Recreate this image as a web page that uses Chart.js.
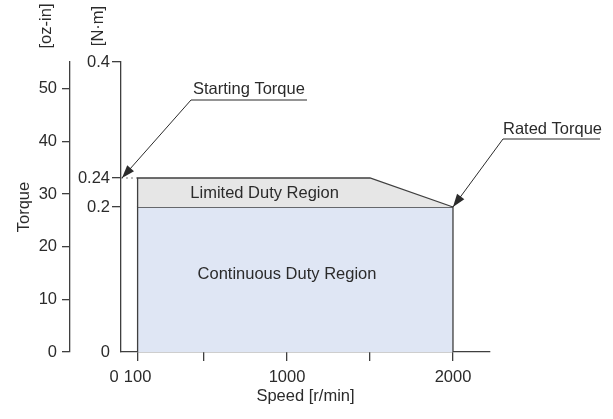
<!DOCTYPE html>
<html>
<head>
<meta charset="utf-8">
<script src="https://cdn.jsdelivr.net/npm/chart.js@4/dist/chart.umd.min.js"></script>
<style>
html,body{margin:0;padding:0;background:#fff;}
#wrap{width:613px;height:419px;}
</style>
</head>
<body>
<div id="wrap"><canvas id="c" width="613" height="419"></canvas></div>
<script>
// ---- data ----
const speedTicks = [0, 100, 500, 1000, 1500, 2000];
const speedTickLabels = ['0   ', '100', '', '1000', '', '2000'];
const torqueNmTicks = [0, 0.2, 0.24, 0.4];
const torqueNmTickLabels = ['0', '0.2', '0.24', '0.4'];
const torqueOzTicks = [0, 10, 20, 30, 40, 50];
const speedRange = [0, 2223];
const torqueNmRange = [0, 0.4];
const torqueOzRange = [0, 55.1];

const continuousSpeed = [100, 100, 2000, 2000];
const continuousTorque = [0, 0.2, 0.2, 0];
const limitedSpeed = [100, 100, 1500, 2000];
const limitedTorque = [0.2, 0.24, 0.24, 0.2];
const startingSpeed = [0, 100];
const startingTorque = [0.24, 0.24];

const regionLabels = ['Limited Duty Region', 'Continuous Duty Region'];
const regionLabelSpeed = [865, 1000];
const regionLabelTorque = [0.218, 0.107];

const calloutLabels = ['Starting Torque', 'Rated Torque'];
const calloutSpeed = [0, 2000];
const calloutTorque = [0.24, 0.2];

// ---- styles ----
const INK = '#2b2b2b';
const LINE = '#3f3f3f';
const BLUE = '#dfe6f4';
const GREY = '#e6e6e6';
const NONE = 'rgba(0,0,0,0)';

// pick the condensed face if installed, else regular with equivalent width
const probe = document.createElement('canvas').getContext('2d');
probe.font = '20px "Liberation Sans Narrow", monospace';
const wNarrow = probe.measureText('Starting Torque').width;
probe.font = '20px monospace';
const wMono = probe.measureText('Starting Torque').width;
const hasNarrow = Math.abs(wNarrow - wMono) > 0.5;
const FONT = hasNarrow ? '"Liberation Sans Narrow", "Liberation Sans", Arial, sans-serif'
                       : '"Liberation Sans", Arial, sans-serif';
const FS = hasNarrow ? 20 : 16.5;

Chart.defaults.font.family = FONT;
Chart.defaults.font.size = FS;
Chart.defaults.color = INK;

const zip = (xs, ys) => xs.map((x, i) => ({x: x, y: ys[i]}));

// callout geometry (pixel offsets from the pointed-to data point)
const calloutGeom = [
  {tipDx: 1, tipDy: 0, elbowDx: 69, elbowDy: -78, lineLen: 116, textDx: 2, textDy: -6},
  {tipDx: 0, tipDy: 0, elbowDx: 50, elbowDy: -68, lineLen: 97, textDx: 0, textDy: -5}
];

function arrowHead(ctx, x0, y0, x1, y1, len, half) {
  const a = Math.atan2(y1 - y0, x1 - x0);
  ctx.beginPath();
  ctx.moveTo(x1, y1);
  ctx.lineTo(x1 - len * Math.cos(a) + half * Math.sin(a), y1 - len * Math.sin(a) - half * Math.cos(a));
  ctx.lineTo(x1 - len * Math.cos(a) - half * Math.sin(a), y1 - len * Math.sin(a) + half * Math.cos(a));
  ctx.closePath();
  ctx.fill();
}

const annotate = {
  id: 'annotate',
  afterDraw(chart) {
    const ctx = chart.ctx;
    const xs = chart.scales.x, ns = chart.scales.nm, os = chart.scales.oz;
    ctx.save();
    ctx.fillStyle = INK;
    ctx.strokeStyle = INK;
    ctx.font = FS + 'px ' + FONT;
    ctx.textAlign = 'center';
    ctx.textBaseline = 'middle';
    regionLabels.forEach((t, i) => {
      ctx.fillText(t, xs.getPixelForValue(regionLabelSpeed[i]), ns.getPixelForValue(regionLabelTorque[i]));
    });
    ctx.lineWidth = 1;
    ctx.textAlign = 'left';
    ctx.textBaseline = 'alphabetic';
    calloutLabels.forEach((t, i) => {
      const g = calloutGeom[i];
      const tx = xs.getPixelForValue(calloutSpeed[i]) + g.tipDx;
      const ty = ns.getPixelForValue(calloutTorque[i]) + g.tipDy;
      const ex = tx + g.elbowDx, ey = ty + g.elbowDy;
      ctx.beginPath();
      ctx.moveTo(ex + g.lineLen, ey);
      ctx.lineTo(ex, ey);
      ctx.lineTo(tx, ty);
      ctx.stroke();
      arrowHead(ctx, ex, ey, tx, ty, 13, 4.5);
      ctx.fillText(t, ex + g.textDx, ey + g.textDy);
    });
    ctx.textAlign = 'center';
    ctx.textBaseline = 'middle';
    [['[oz-in]', os.right - 24], ['[N\u00B7m]', ns.right - 23]].forEach(([t, x]) => {
      ctx.save();
      ctx.translate(x, 26);
      ctx.rotate(-Math.PI / 2);
      ctx.fillText(t, 0, 0);
      ctx.restore();
    });
    ctx.restore();
  }
};

new Chart(document.getElementById('c'), {
  type: 'scatter',
  data: {
    datasets: [
      {
        label: 'Limited Duty Region',
        data: zip(limitedSpeed, limitedTorque),
        yAxisID: 'nm',
        showLine: true,
        fill: {value: 0.2},
        backgroundColor: GREY,
        borderColor: LINE,
        borderWidth: 1.3,
        pointRadius: 0,
        tension: 0
      },
      {
        label: 'Continuous Duty Region',
        data: zip(continuousSpeed, continuousTorque),
        yAxisID: 'nm',
        showLine: true,
        fill: 'origin',
        backgroundColor: BLUE,
        borderColor: LINE,
        borderWidth: 1.3,
        pointRadius: 0,
        tension: 0
      },
      {
        label: 'Starting Torque',
        data: zip(startingSpeed, startingTorque),
        yAxisID: 'nm',
        showLine: true,
        fill: false,
        borderColor: '#777',
        borderWidth: 1,
        borderDash: [2, 3],
        pointRadius: 0
      }
    ]
  },
  options: {
    responsive: false,
    animation: false,
    devicePixelRatio: 1,
    layout: {padding: {top: 62, right: 123, bottom: 0, left: 0}},
    plugins: {legend: {display: false}, tooltip: {enabled: false}},
    scales: {
      x: {
        type: 'linear',
        position: 'bottom',
        min: speedRange[0],
        max: speedRange[1],
        afterBuildTicks: s => { s.ticks = speedTicks.map(v => ({value: v})); },
        afterFit: s => { s.height = 67; },
        ticks: {
          autoSkip: false, maxRotation: 0, padding: 7, color: INK,
          callback: (v, i) => speedTickLabels[i]
        },
        grid: {
          drawOnChartArea: false, drawTicks: true, tickLength: 9, lineWidth: 1.3,
          tickColor: c => (c.tick && c.tick.value === 0) ? NONE : LINE
        },
        border: {display: true, color: LINE, width: 1.3},
        title: {display: true, text: 'Speed [r/min]', color: INK, padding: {top: 0, bottom: 13}}
      },
      nm: {
        type: 'linear',
        position: 'left',
        weight: 1,
        min: torqueNmRange[0],
        max: torqueNmRange[1],
        afterBuildTicks: s => { s.ticks = torqueNmTicks.map(v => ({value: v})); },
        afterFit: s => { s.width = 51; },
        ticks: {
          autoSkip: false, padding: 2, color: INK,
          callback: (v, i) => torqueNmTickLabels[i]
        },
        grid: {
          drawOnChartArea: false, drawTicks: true, tickLength: 9, lineWidth: 1.3,
          tickColor: c => (c.tick && c.tick.value === 0) ? NONE : LINE
        },
        border: {display: true, color: LINE, width: 1.3}
      },
      oz: {
        type: 'linear',
        position: 'left',
        weight: 2,
        min: torqueOzRange[0],
        max: torqueOzRange[1],
        afterBuildTicks: s => { s.ticks = torqueOzTicks.map(v => ({value: v})); },
        afterFit: s => { s.width = 70; },
        ticks: {autoSkip: false, padding: 5, color: INK},
        grid: {drawOnChartArea: false, drawTicks: true, tickLength: 8, lineWidth: 1.3, tickColor: LINE},
        border: {display: true, color: LINE, width: 1.3},
        title: {display: true, text: 'Torque', color: INK, padding: {top: 15, bottom: 0}}
      }
    }
  },
  plugins: [annotate]
});
</script>
</body>
</html>
